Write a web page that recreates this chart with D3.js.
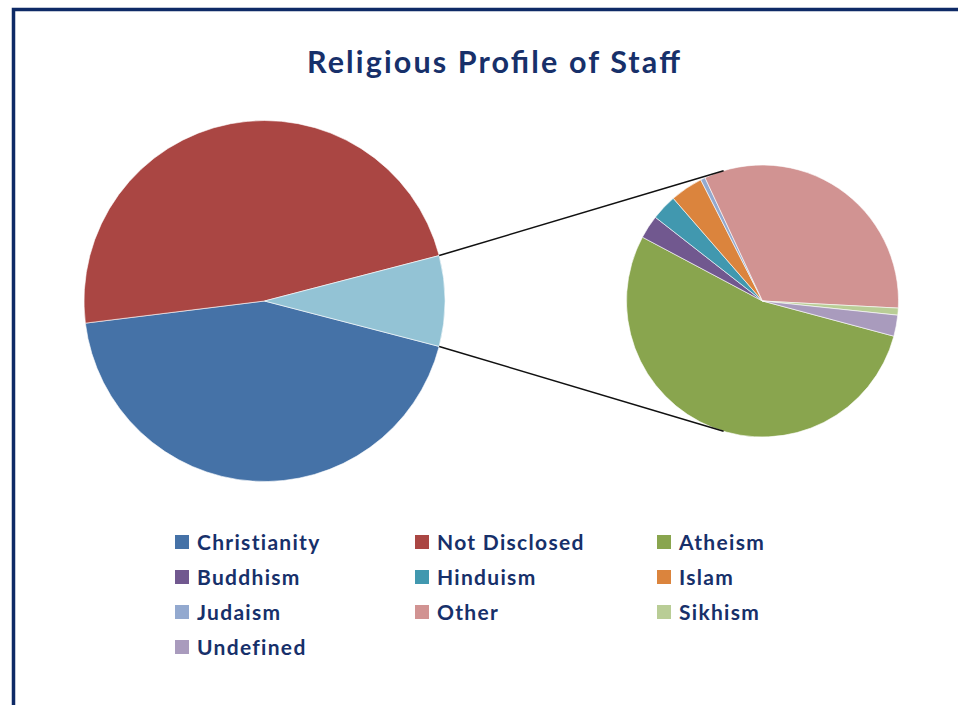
<!DOCTYPE html>
<html>
<head>
<meta charset="utf-8">
<script src="https://cdn.jsdelivr.net/npm/d3@7"></script>
<style>
  html, body { margin: 0; padding: 0; background: #ffffff; }
  svg { display: block; }
</style>
</head>
<body>
<svg id="chart" width="958" height="705"></svg>
<script>
// Main pie: the two big groups plus the combined remainder ("Other" group)
const mainCategories = ["Christianity", "Not Disclosed"];
const mainValues = [1955, 2129];

// Secondary pie: breakdown of the combined remainder
const subCategories = ["Atheism", "Buddhism", "Hinduism", "Islam", "Judaism", "Other", "Sikhism", "Undefined"];
const subValues = [193, 10, 11, 14, 2, 118, 3, 9];

// Legend order and colours
const legendLabels = ["Christianity", "Not Disclosed", "Atheism", "Buddhism", "Hinduism",
                      "Islam", "Judaism", "Other", "Sikhism", "Undefined"];
const legendColors = ["#4572A7", "#AA4643", "#89A54E", "#71588F", "#4198AF",
                      "#DB843D", "#93A9CF", "#D19392", "#B9CD96", "#A99BBD"];
const groupColor = "#93C3D5";

const chartTitle = "Religious Profile of Staff";

const svg = d3.select("#chart");
const color = d3.scaleOrdinal().domain(legendLabels).range(legendColors);

// Frame (top and left edges)
svg.append("path")
  .attr("d", "M13.5,705 L13.5,9.5 L958,9.5")
  .attr("fill", "none")
  .attr("stroke", "#0E2A66")
  .attr("stroke-width", 3.5);

// Title
svg.append("text")
  .attr("x", 307)
  .attr("y", 72.5)
  .attr("font-family", "Lato, 'Open Sans', sans-serif")
  .attr("font-weight", "bold")
  .attr("font-size", 30.5)
  .attr("textLength", 373)
  .attr("lengthAdjust", "spacing")
  .attr("fill", "#17306A")
  .text(chartTitle);

// Main pie data: combined remainder is the last slice, centred on 3 o'clock
const subTotal = d3.sum(subValues);
const mainData = mainCategories.map((c, i) => ({ name: c, value: mainValues[i], color: color(c) }))
  .concat([{ name: "group", value: subTotal, color: groupColor }]);
const mainTotal = d3.sum(mainData, d => d.value);
const groupAngle = 2 * Math.PI * subTotal / mainTotal;
const mainStart = Math.PI / 2 + groupAngle / 2;

const mainCx = 264.5, mainCy = 301, mainR = 180.5;
const subCx = 762.5, subCy = 301, subR = 136;

const mainPie = d3.pie().sort(null).value(d => d.value)
  .startAngle(mainStart).endAngle(mainStart + 2 * Math.PI);
const mainArc = d3.arc().innerRadius(0).outerRadius(mainR);

const gMain = svg.append("g").attr("transform", `translate(${mainCx},${mainCy})`);
gMain.selectAll("path")
  .data(mainPie(mainData))
  .join("path")
  .attr("d", mainArc)
  .attr("fill", d => d.data.color)
  .attr("stroke", "#ffffff")
  .attr("stroke-width", 0.6);

// Secondary pie
const subData = subCategories.map((c, i) => ({ name: c, value: subValues[i], color: color(c) }));
const subStart = 105 * Math.PI / 180;
const subPie = d3.pie().sort(null).value(d => d.value)
  .startAngle(subStart).endAngle(subStart + 2 * Math.PI);
const subArc = d3.arc().innerRadius(0).outerRadius(subR);

const gSub = svg.append("g").attr("transform", `translate(${subCx},${subCy})`);
gSub.selectAll("path")
  .data(subPie(subData))
  .join("path")
  .attr("d", subArc)
  .attr("fill", d => d.data.color)
  .attr("stroke", "#ffffff")
  .attr("stroke-width", 0.6);

// Connector lines: from the edges of the group slice, tangent to the secondary pie
function edgePoint(a) {
  return [mainCx + mainR * Math.sin(a), mainCy - mainR * Math.cos(a)];
}
function tangentPoint(p, upper) {
  const dx = p[0] - subCx, dy = p[1] - subCy;
  const d = Math.hypot(dx, dy);
  const base = Math.atan2(dy, dx);
  const off = Math.acos(subR / d);
  const a = upper ? base + off : base - off;
  return [subCx + subR * Math.cos(a), subCy + subR * Math.sin(a)];
}
const pTop = edgePoint(Math.PI / 2 - groupAngle / 2);
const pBot = edgePoint(Math.PI / 2 + groupAngle / 2);
const tTop = tangentPoint(pTop, true);
const tBot = tangentPoint(pBot, false);
svg.append("g")
  .selectAll("line")
  .data([[pTop, tTop], [pBot, tBot]])
  .join("line")
  .attr("x1", d => d[0][0]).attr("y1", d => d[0][1])
  .attr("x2", d => d[1][0]).attr("y2", d => d[1][1])
  .attr("stroke", "#111111")
  .attr("stroke-width", 1.5);

// Legend: three columns
const colX = [175, 415, 657];
const rowY = [542, 577, 612, 647];
const legend = svg.append("g")
  .selectAll("g")
  .data(legendLabels)
  .join("g")
  .attr("transform", (d, i) => `translate(${colX[i % 3]},${rowY[Math.floor(i / 3)]})`);
legend.append("rect")
  .attr("x", 0).attr("y", -7)
  .attr("width", 14).attr("height", 14)
  .attr("fill", d => color(d));
legend.append("text")
  .attr("x", 22).attr("y", 7.5)
  .attr("font-family", "Lato, 'Open Sans', sans-serif")
  .attr("font-weight", "bold")
  .attr("font-size", 21)
  .attr("letter-spacing", 1.3)
  .attr("fill", "#17306A")
  .text(d => d);
</script>
</body>
</html>
